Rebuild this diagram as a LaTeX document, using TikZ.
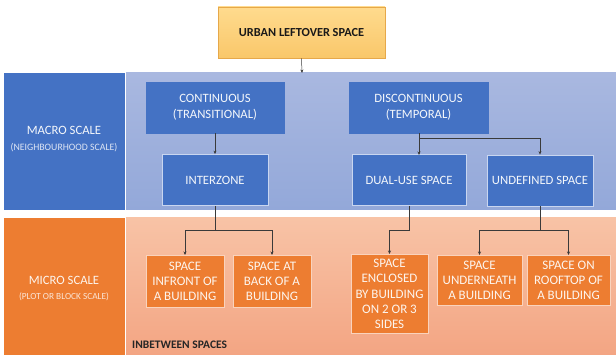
\documentclass[tikz,border=0pt]{standalone}
\usepackage{fontspec}
\setmainfont{Carlito}
\usetikzlibrary{arrows.meta,positioning}
\definecolor{dblue}{HTML}{4472C4}
\definecolor{lblueT}{HTML}{A9B8E0}
\definecolor{lblueB}{HTML}{93A8D9}
\definecolor{dorange}{HTML}{ED7D31}
\definecolor{lorangeT}{HTML}{F8C3A6}
\definecolor{lorangeB}{HTML}{F3A583}
\definecolor{boxborder}{HTML}{C9D6F0}
\definecolor{oborder}{HTML}{FAD3BC}
\definecolor{yellT}{HTML}{FFDB8E}
\definecolor{yellB}{HTML}{F9C76A}
\definecolor{yborder}{HTML}{E6A84A}
\definecolor{arrowc}{HTML}{3A3A3A}
\tikzset{
  band/.style={draw=none, inner sep=0pt, anchor=north west},
  bluebox/.style={fill=dblue, draw=dblue, inner sep=0pt, align=center, text=white!94!dblue, font=\fontsize{12.7}{15.5}\selectfont},
  blueboxb/.style={bluebox, draw=boxborder, line width=0.8pt},
  orangebox/.style={fill=dorange, draw=oborder, line width=0.8pt, inner sep=0pt, align=center, text=white!92!dorange, font=\fontsize{13}{15.3}\selectfont},
  conn/.style={draw=arrowc, line width=0.5pt},
  arr/.style={conn, -{Stealth[length=3.5pt,width=3pt]}},
  scalelbl/.style={text=white!94!dblue, align=center, inner sep=0pt}
}
\begin{document}
\begin{tikzpicture}[x=1pt,y=-1pt]
\useasboundingbox (0,0) rectangle (616,355);
% bands
\shade[top color=lblueT, bottom color=lblueB] (126,73) rectangle (616,210);
\node[band, fill=dblue, minimum width=121pt, minimum height=137pt] (macro) at (4,73) {};
\shade[top color=lorangeT, bottom color=lorangeB] (126,218) rectangle (616,355);
\node[band, fill=dorange, minimum width=121pt, minimum height=137pt] (micro) at (4,218) {};
\coordinate (bandtop) at (302,73);
% scale labels
\node[scalelbl, font=\fontsize{12.7}{15}\selectfont] (macrot) at (64,130) {MACRO SCALE};
\node[scalelbl, font=\fontsize{9.8}{11}\selectfont, text=white!82!dblue] (macros) at (64,148) {(NEIGHBOURHOOD SCALE)};
\node[scalelbl, font=\fontsize{12.7}{15}\selectfont, text=white!92!dorange] (microt) at (64,280) {MICRO SCALE};
\node[scalelbl, font=\fontsize{9.3}{11}\selectfont, text=white!80!dorange] (micros) at (64,297) {(PLOT OR BLOCK SCALE)};
% top
\node[top color=yellT, bottom color=yellB, draw=yborder, line width=0.6pt, minimum width=167pt, minimum height=51pt, inner sep=0pt, font=\bfseries\fontsize{12.3}{14}\selectfont, text=black!90] (top) at (301.5,32.5) {URBAN LEFTOVER SPACE};
% macro boxes
\node[bluebox, minimum width=138pt, minimum height=51pt] (cont) at (215,107.5) {CONTINUOUS\\(TRANSITIONAL)};
\node[bluebox, minimum width=139pt, minimum height=51pt] (disc) at (418.5,107.5) {DISCONTINUOUS\\(TEMPORAL)};
\node[blueboxb, minimum width=106pt, minimum height=51pt] (inter) at (215,180) {INTERZONE};
\node[blueboxb, minimum width=114pt, minimum height=51pt] (dual) at (409,180) {DUAL-USE SPACE};
\node[blueboxb, minimum width=106pt, minimum height=51pt] (undef) at (540,180.5) {UNDEFINED SPACE};
% micro boxes
\node[orangebox, minimum width=78pt, minimum height=52pt, anchor=north] (front) at (185,255) {SPACE\\INFRONT OF\\A BUILDING};
\node[orangebox, minimum width=78pt, minimum height=52pt, anchor=north] (back) at (272,255) {SPACE AT\\BACK OF A\\BUILDING};
\node[orangebox, minimum width=77pt, minimum height=79pt, anchor=north] (encl) at (389.5,254) {SPACE\\ENCLOSED\\BY BUILDING\\ON 2 OR 3\\SIDES};
\node[orangebox, minimum width=85pt, minimum height=50pt, anchor=north] (under) at (479.5,255) {SPACE\\UNDERNEATH\\A BUILDING};
\node[orangebox, minimum width=83pt, minimum height=50pt, anchor=north] (roof) at (568.5,255) {SPACE ON\\ROOFTOP OF\\A BUILDING};
\node[anchor=west, inner sep=0pt, font=\bfseries\fontsize{11.5}{13}\selectfont, text=black!85] (inb) at (132,345) {INBETWEEN SPACES};
% connectors
\draw[arr] (top.south) -- (bandtop);
\draw[arr] (cont.south) -- (inter.north);
\coordinate (dj) at (419,138);
\coordinate (dl) at (419,155);
\draw[arr] (disc.south -| dj) -- (dl);
\draw[arr] (disc.south -| dj) -- (dj) -| (undef.north);
\coordinate (ij) at (215,230);
\draw[conn] (inter.south) -- (ij);
\draw[arr] (ij) -| (front.north);
\draw[arr] (ij) -| (back.north);
\coordinate (uj) at (409,230);
\draw[arr] (dual.south) -- (uj) -| (encl.north);
\coordinate (vj) at (540,230);
\draw[conn] (undef.south) -- (vj);
\draw[arr] (vj) -| (under.north);
\draw[arr] (vj) -| (roof.north);
\end{tikzpicture}
\end{document}
